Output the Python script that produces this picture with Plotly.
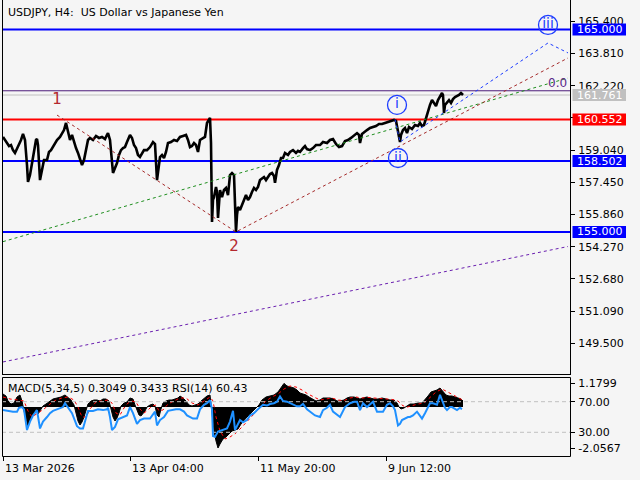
import plotly.graph_objects as go

# ---------------- data ----------------
price_bar = [3,5,7,9,11,13,15,17,19,21,23,25,27,28,30,32,34,36,37,38,40,42,44,47,49,51,53,55,57,60,
             62,64,66,68,70,72,74,76,78,80,82,84,86,88,90,93,96,99,102,105,107,108,110,112,113,115,117,119,121,123,
             125,127,130,132,134,136,138,140,142,144,147,150,153,155,157,158,160,162,164,166,168,171,174,177,180,183,186,188,190,192,
             194,196,198,200,203,205,207,209,210,211,212,213,214,216,217,218,219,220,222,224,226,228,230,232,234,235,236,237,238,240,
             242,244,246,248,250,252,254,256,258,260,262,264,266,268,270,272,274,275,277,279,281,283,285,288,290,293,296,298,300,303,
             305,307,310,313,316,320,323,327,330,333,336,339,342,345,348,351,354,357,359,360,362,364,367,370,373,376,379,382,385,388,
             391,394,396,398,400,401,403,405,407,409,412,415,418,420,422,424,426,428,430,432,434,436,438,440,442,443,444,445,447,449,
             451,453,455,457,459,461,463]
price_val = [159.69,159.54,159.39,159.24,159.29,159.04,158.90,159.09,159.29,159.54,159.84,159.54,158.30,157.47,157.81,158.40,159.04,159.54,159.59,159.29,
             157.56,158.06,158.55,158.55,158.95,159.04,159.19,159.39,159.54,159.69,159.88,160.03,160.38,159.93,159.54,159.79,159.44,159.14,158.90,158.65,
             158.30,158.55,159.04,159.54,159.64,159.54,159.74,159.64,159.69,159.59,159.79,159.88,159.54,158.30,157.91,158.16,158.40,158.80,159.04,159.14,
             159.19,159.44,159.79,159.64,159.29,159.14,158.80,158.70,158.90,159.04,159.04,159.19,159.44,159.34,157.56,158.06,158.70,158.80,158.65,158.95,
             159.39,159.44,159.54,159.49,159.69,159.74,159.79,159.54,159.19,159.24,159.39,159.29,158.95,159.54,159.64,159.69,160.38,160.53,160.63,159.39,
             155.49,156.58,156.72,157.22,156.97,155.69,156.58,157.07,156.72,157.07,157.17,156.82,157.81,157.91,157.81,156.58,155.00,155.84,156.23,156.08,
             156.33,156.58,156.82,156.58,156.72,156.97,157.17,157.07,157.22,157.56,157.66,157.71,157.56,157.71,157.86,157.91,157.76,157.42,158.06,158.30,
             158.65,158.65,158.90,158.80,158.95,159.04,158.90,159.00,158.95,159.14,159.24,159.09,159.04,159.14,159.29,159.29,159.44,159.39,159.54,159.59,
             159.34,159.19,159.24,159.49,159.54,159.64,159.74,159.88,159.79,159.39,159.84,159.93,160.03,160.13,160.18,160.23,160.33,160.33,160.38,160.43,
             160.48,160.53,160.48,160.03,159.44,159.79,160.03,160.13,159.88,160.18,160.08,160.28,160.23,160.38,160.23,160.28,160.63,160.92,161.27,161.51,
             161.37,161.22,161.51,161.66,161.86,161.76,160.87,161.27,161.42,161.51,161.37,161.56,161.66,161.71,161.76,161.86,161.76]

macd_bar = [3,6,8,11,14,17,20,22,24,26,28,30,32,34,36,38,40,43,46,50,53,57,61,65,68,71,74,76,78,80,
            82,84,86,88,91,94,97,100,103,106,109,111,113,115,117,119,121,124,127,130,133,135,137,139,141,143,145,147,150,153,
            155,157,159,161,163,166,169,172,175,178,180,183,186,189,192,195,198,201,204,207,210,212,214,216,218,220,223,226,229,232,
            235,238,241,244,247,250,253,256,259,262,266,270,274,278,281,284,287,290,294,297,300,303,306,309,312,316,320,323,327,330,
            334,337,340,344,347,350,354,357,360,363,367,370,374,378,382,386,390,394,397,399,401,404,407,410,414,418,422,425,428,431,
            434,437,440,443,446,449,452,455,458,461,463]
macd_val = [0.65,0.55,0.30,0.15,0.20,0.50,0.60,0.30,-0.20,-0.60,-0.95,-0.70,-0.40,-0.30,-0.10,-0.35,-0.20,0.05,0.15,0.30,0.40,0.45,0.50,0.60,0.45,0.35,0.10,-0.30,-0.70,-0.90,
            -0.75,-0.50,-0.10,0.15,0.30,0.35,0.35,0.30,0.40,0.40,0.30,-0.10,-0.50,-0.70,-0.55,-0.30,0.05,0.20,0.25,0.45,0.40,0.10,-0.20,-0.40,-0.45,-0.35,-0.20,0.00,0.10,0.15,
            0.05,-0.40,-0.50,-0.10,0.20,0.30,0.35,0.35,0.40,0.45,0.55,0.45,0.30,0.10,0.05,0.10,0.15,0.30,0.45,0.55,0.60,-0.30,-1.20,-1.70,-2.05,-1.85,-1.60,-1.50,-1.35,-1.20,
            -1.15,-1.10,-0.85,-0.65,-0.50,-0.35,-0.20,-0.05,0.10,0.35,0.50,0.55,0.60,0.75,0.95,1.18,1.05,1.00,0.95,0.85,0.70,0.65,0.60,0.50,0.40,0.30,0.35,0.45,0.45,0.45,
            0.40,0.30,0.30,0.35,0.45,0.50,0.50,0.45,0.40,0.45,0.50,0.45,0.40,0.40,0.45,0.40,0.35,0.35,0.20,0.00,-0.10,-0.05,0.05,0.15,0.15,0.20,0.20,0.35,0.55,0.75,
            0.80,0.85,0.95,0.80,0.60,0.55,0.55,0.50,0.45,0.40,0.30]

signal_bar = [3,10,18,24,28,32,38,44,50,56,62,68,74,78,82,86,90,96,102,108,112,116,120,124,128,132,136,140,144,148,
              152,156,159,163,168,174,180,186,192,198,204,210,213,216,220,225,230,236,242,248,254,260,266,272,278,284,290,296,302,308,
              314,320,326,332,338,344,350,356,362,368,374,380,386,392,398,402,406,412,418,424,430,436,442,448,454,460,463]
signal_val = [0.50,0.40,0.35,0.30,-0.20,-0.50,-0.30,-0.10,0.15,0.35,0.45,0.50,0.35,0.00,-0.50,-0.50,-0.10,0.25,0.30,0.35,0.20,-0.30,-0.40,-0.05,0.20,0.30,0.25,-0.10,-0.30,-0.15,
              0.05,0.10,-0.20,-0.15,0.15,0.30,0.45,0.45,0.20,0.10,0.30,0.50,0.30,-0.50,-1.20,-1.60,-1.50,-1.30,-1.00,-0.70,-0.35,0.00,0.30,0.50,0.65,0.90,1.05,1.00,0.85,0.65,
              0.50,0.35,0.40,0.45,0.35,0.32,0.45,0.50,0.45,0.48,0.45,0.42,0.42,0.38,0.30,0.10,-0.02,0.08,0.15,0.20,0.50,0.75,0.90,0.75,0.60,0.45,0.34]

rsi_bar = [3,7,10,13,17,19,22,24,27,30,33,37,40,43,47,50,53,58,63,65,68,72,75,77,80,83,85,88,93,98,
           103,107,108,110,112,115,118,120,124,127,130,133,137,140,144,147,150,155,157,160,164,168,172,176,180,184,187,190,193,197,
           200,204,207,210,212,213,215,218,222,227,230,232,233,235,237,240,243,247,250,254,257,260,263,267,270,274,277,280,283,287,
           290,293,297,300,303,307,310,315,320,323,327,330,333,337,340,345,350,354,357,360,363,367,370,373,377,380,383,387,390,393,
           395,398,400,402,405,408,410,413,417,420,422,425,427,430,433,437,440,443,445,447,450,452,455,457,460,462]
rsi_val = [59,58,58,57,57,62,63,60,33,44,52,59,35,44,50,55,58,60,63,68,62,55,45,38,35,35,44,58,58,60,
           59,60,62,50,33,37,47,48,50,52,63,55,41,46,48,48,48,57,39,46,50,58,59,60,60,57,52,50,48,48,
           60,66,68,72,60,25,24,31,33,35,44,55,58,33,38,46,43,46,52,55,59,63,66,65,67,68,70,77,71,70,
           68,67,64,64,67,60,57,52,50,59,62,66,57,53,50,63,68,70,70,59,68,63,66,70,57,57,57,66,68,64,
           59,39,41,46,48,50,50,52,57,52,48,55,61,68,68,66,79,70,62,59,63,63,60,59,62,60.43]

levels_blue = [165.000, 158.502, 155.000]
level_red = 160.552
last_price = 161.761
fib_zero = 161.97

green_bar = [3, 568]
green_val = [154.52, 162.60]
red_bar = [57, 236, 568]
red_val = [160.77, 155.00, 163.59]
purple_bar = [3, 568]
purple_val = [148.58, 154.28]
blue_bar = [395, 400, 548, 568]
blue_val = [160.55, 159.44, 164.33, 163.84]

wave_text = ["1", "2"]
wave_bar = [57, 234]
wave_val = [161.51, 154.26]
circ_text = ["i", "ii", "iii"]
circ_bar = [397, 398, 548]
circ_val = [161.27, 158.65, 165.22]

price_ticks = [149.5, 151.09, 152.68, 154.27, 155.86, 157.45, 159.04, 160.63, 162.22, 163.81, 165.4]
macd_ticks = [1.1799, -2.0567]
rsi_ticks = [70, 30]
time_bars = [3, 130, 258, 386]
time_labels = ["13 Mar 2026", "13 Apr 04:00", "11 May 20:00", "9 Jun 12:00"]

# ---------------- layout helpers ----------------
W, H = 640, 480
X_LEFT, X_RIGHT = 2, 570
MAIN_TOP, MAIN_BOT = 0, 375
SUB_TOP, SUB_BOT = 377, 456
P_MIN, P_MAX = 147.935, 166.452
M_MIN, M_MAX = -2.45, 1.5
R_MIN, R_MAX = -1.0, 102.3
FONT = "DejaVu Sans"
BG = "#f5f5f5"
BLUE = "#0000ff"
RED = "#ff0000"
WAVE_BLUE = "#1c3cff"

def px(x):
    return x / W

def py(y):
    return 1 - y / H

fig = go.Figure()

# horizontal levels (behind price)
for v in levels_blue:
    fig.add_trace(go.Scatter(x=[X_LEFT, X_RIGHT], y=[v, v], mode="lines",
                             line=dict(color=BLUE, width=2), xaxis="x", yaxis="y", hoverinfo="skip"))
fig.add_trace(go.Scatter(x=[X_LEFT, X_RIGHT], y=[level_red, level_red], mode="lines",
                         line=dict(color=RED, width=2), xaxis="x", yaxis="y", hoverinfo="skip"))
fig.add_trace(go.Scatter(x=[X_LEFT, X_RIGHT], y=[last_price, last_price], mode="lines",
                         line=dict(color="#c0c0c0", width=1), xaxis="x", yaxis="y", hoverinfo="skip"))
fig.add_trace(go.Scatter(x=[X_LEFT, X_RIGHT], y=[fib_zero, fib_zero], mode="lines",
                         line=dict(color="#4b1a7a", width=1), xaxis="x", yaxis="y", hoverinfo="skip"))

# price
fig.add_trace(go.Scatter(x=price_bar, y=price_val, mode="lines",
                         line=dict(color="black", width=2.6), xaxis="x", yaxis="y"))

# trend lines
dash = "3px,3px"
fig.add_trace(go.Scatter(x=green_bar, y=green_val, mode="lines",
                         line=dict(color="#1f8f1f", width=1, dash=dash), xaxis="x", yaxis="y"))
fig.add_trace(go.Scatter(x=red_bar, y=red_val, mode="lines",
                         line=dict(color="#a52a2a", width=1, dash=dash), xaxis="x", yaxis="y"))
fig.add_trace(go.Scatter(x=purple_bar, y=purple_val, mode="lines",
                         line=dict(color="#6a1fb0", width=1, dash=dash), xaxis="x", yaxis="y"))
fig.add_trace(go.Scatter(x=blue_bar, y=blue_val, mode="lines",
                         line=dict(color="#1c3cff", width=1, dash=dash), xaxis="x", yaxis="y"))

# wave labels
fig.add_trace(go.Scatter(x=wave_bar, y=wave_val, mode="text", text=wave_text,
                         textfont=dict(family=FONT, size=15, color="#b4282e"),
                         textposition="middle center", xaxis="x", yaxis="y"))
fig.add_trace(go.Scatter(x=circ_bar, y=circ_val, mode="markers+text", text=circ_text,
                         marker=dict(symbol="circle-open", size=19, color=WAVE_BLUE,
                                     line=dict(color=WAVE_BLUE, width=1.3)),
                         textfont=dict(family=FONT, size=14, color=WAVE_BLUE),
                         textposition="middle center", xaxis="x", yaxis="y"))

# indicator panel
fig.add_trace(go.Scatter(x=macd_bar, y=macd_val, mode="lines", fill="tozeroy",
                         fillcolor="black", line=dict(color="black", width=1),
                         xaxis="x2", yaxis="y2"))
fig.add_trace(go.Scatter(x=signal_bar, y=signal_val, mode="lines",
                         line=dict(color=RED, width=1, dash="dot"), xaxis="x2", yaxis="y2"))
for v in rsi_ticks:
    fig.add_trace(go.Scatter(x=[X_LEFT, X_RIGHT], y=[v, v], mode="lines",
                             line=dict(color="#c0c0c0", width=1, dash="4px,3px"),
                             xaxis="x2", yaxis="y3", hoverinfo="skip"))
fig.add_trace(go.Scatter(x=rsi_bar, y=rsi_val, mode="lines",
                         line=dict(color="#1e90ff", width=2), xaxis="x2", yaxis="y3"))

tickfont = dict(family=FONT, size=11, color="black")
fig.update_layout(
    width=W, height=H, margin=dict(l=0, r=0, t=0, b=0),
    paper_bgcolor=BG, plot_bgcolor=BG, showlegend=False,
    xaxis=dict(domain=[px(X_LEFT), px(X_RIGHT)], range=[X_LEFT, X_RIGHT], anchor="y",
               showgrid=False, zeroline=False, showticklabels=False, ticks=""),
    yaxis=dict(domain=[py(MAIN_BOT), py(MAIN_TOP)], range=[P_MIN, P_MAX], anchor="x",
               side="right", showgrid=False, zeroline=False,
               tickvals=price_ticks, ticktext=[f"{v:.3f}" for v in price_ticks],
               ticks="outside", ticklen=4, tickcolor="black", tickfont=tickfont,
               ticklabelstandoff=1),
    xaxis2=dict(domain=[px(X_LEFT), px(X_RIGHT)], range=[X_LEFT, X_RIGHT], anchor="y2",
                showgrid=False, zeroline=False, showticklabels=False,
                tickvals=time_bars, ticks="outside", ticklen=4, tickcolor="black"),
    yaxis2=dict(domain=[py(SUB_BOT), py(SUB_TOP)], range=[M_MIN, M_MAX], anchor="x2",
                side="right", showgrid=False, zeroline=False,
                tickvals=macd_ticks, ticktext=["1.1799", "-2.0567"],
                ticks="outside", ticklen=4, tickcolor="black", tickfont=tickfont,
                ticklabelstandoff=1),
    yaxis3=dict(overlaying="y2", range=[R_MIN, R_MAX], anchor="x2",
                side="right", showgrid=False, zeroline=False,
                tickvals=rsi_ticks, ticktext=["70.00", "30.00"],
                ticks="outside", ticklen=4, tickcolor="black", tickfont=tickfont,
                ticklabelstandoff=1),
)

# frames
shapes = []
line_k = dict(color="black", width=1)
shapes.append(dict(type="line", xref="paper", yref="paper", x0=px(X_LEFT + 0.5), x1=px(X_LEFT + 0.5),
                   y0=py(MAIN_TOP), y1=py(MAIN_BOT - 0.5), line=line_k))
shapes.append(dict(type="line", xref="paper", yref="paper", x0=px(X_LEFT), x1=px(X_RIGHT + 1),
                   y0=py(MAIN_BOT - 0.5), y1=py(MAIN_BOT - 0.5), line=line_k))
shapes.append(dict(type="line", xref="paper", yref="paper", x0=px(X_RIGHT + 0.5), x1=px(X_RIGHT + 0.5),
                   y0=py(MAIN_TOP), y1=py(MAIN_BOT - 0.5), line=line_k))
shapes.append(dict(type="rect", xref="paper", yref="paper", x0=px(X_LEFT + 0.5), x1=px(X_RIGHT + 0.5),
                   y0=py(SUB_TOP + 0.5), y1=py(SUB_BOT + 0.5), line=line_k))

# price boxes on the right
ppx = (P_MAX - P_MIN) / (MAIN_BOT - MAIN_TOP)
annotations = []
boxes = [(165.000, BLUE), (last_price, "#c0c0c0"), (level_red, RED), (158.502, BLUE), (155.000, BLUE)]
for v, col in boxes:
    shapes.append(dict(type="rect", xref="paper", yref="y", x0=px(572.5), x1=px(626),
                       y0=v - 6 * ppx, y1=v + 6 * ppx, fillcolor=col, line=dict(width=0), layer="above"))
    annotations.append(dict(xref="paper", yref="y", x=px(575), y=v, xanchor="left", yanchor="middle",
                            text=f"{v:.3f}", showarrow=False,
                            font=dict(family=FONT, size=11, color="white")))

# texts
annotations.append(dict(xref="paper", yref="paper", x=px(6), y=py(12), xanchor="left", yanchor="middle",
                        text="USDJPY, H4:\u00a0 US Dollar vs Japanese Yen", showarrow=False,
                        font=dict(family=FONT, size=11, color="black")))
annotations.append(dict(xref="paper", yref="paper", x=px(6), y=py(388), xanchor="left", yanchor="middle",
                        text="MACD(5,34,5) 0.3049 0.3433 RSI(14) 60.43", showarrow=False,
                        font=dict(family=FONT, size=11, color="black")))
annotations.append(dict(xref="paper", yref="y", x=px(569), y=162.35, xanchor="right", yanchor="middle",
                        text="0.0", showarrow=False,
                        font=dict(family=FONT, size=12, color="#5a2a8a")))
for b, lab in zip(time_bars, time_labels):
    annotations.append(dict(xref="x2", yref="paper", x=b, y=py(468), xanchor="left", yanchor="middle",
                            text=lab, showarrow=False, font=dict(family=FONT, size=11, color="black")))

fig.update_layout(shapes=shapes, annotations=annotations)
fig.write_html("out.html")
